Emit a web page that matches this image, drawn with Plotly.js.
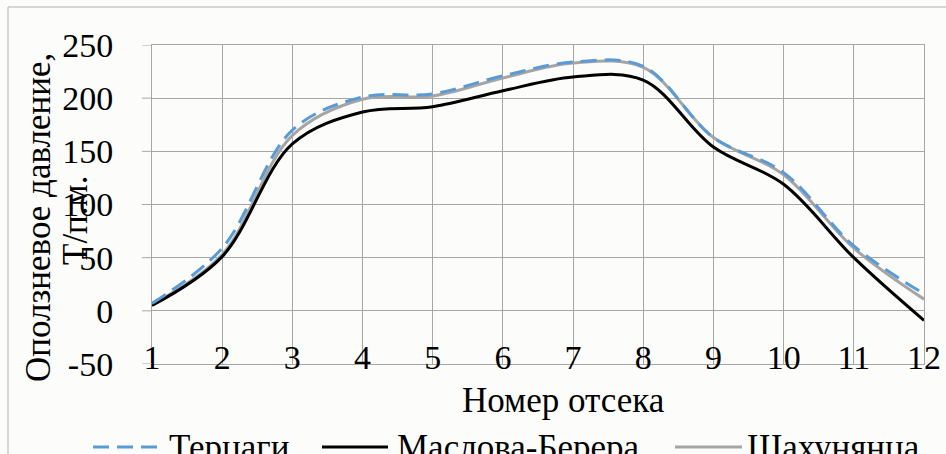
<!DOCTYPE html>
<html><head><meta charset="utf-8">
<script src="https://cdn.plot.ly/plotly-3.0.1.min.js"></script>
<style>
html,body{margin:0;padding:0;background:#fcfcfb}
#chart svg text{font-family:'Liberation Serif',serif !important;}
</style>
</head><body><div id="chart" style="width:946px;height:454px"></div>
<script>
const sections = [1,2,3,4,5,6,7,8,9,10,11,12];
const terzaghi = [7, 59, 170, 201, 204, 221, 234, 230, 163, 130, 61, 16];
const maslovBerer = [5, 51, 157, 187, 192, 207, 220, 217, 154, 119, 50, -9];
const shakhunyants = [6, 53, 165, 199, 202, 219, 233, 229, 163, 128, 59, 11];
const seriesNames = ['Терцаги', 'Маслова-Берера', 'Шахунянца'];
const yTickVals = [-50, 0, 50, 100, 150, 200, 250];
const xTitle = 'Номер отсека';
const yTitleLines = ['Оползневое давление,', 'Т/п.м.'];

const W = 946, H = 454, ML = 152, MR = 22, MT = 45, MB = 90;
const PW = W - ML - MR, PH = H - MT - MB;
const px = x => (x - ML) / PW;
const py = y => (H - MB - y) / PH;

const FONT = 'Liberation Serif';
const colors = ['#5b9bd5', '#000000', '#a5a5a5'];
const dashes = ['16px,8px', 'solid', 'solid'];
const allY = [terzaghi, maslovBerer, shakhunyants];
const tf = (s) => ({family: FONT, size: s || 34, color: '#000000'});

const order = [2, 1, 0];
const traces = order.map(i => ({
  x: sections, y: allY[i], name: seriesNames[i], type: 'scatter', mode: 'lines',
  line: {color: colors[i], width: 3, dash: dashes[i], shape: 'spline', smoothing: 1},
  showlegend: false, hoverinfo: 'x+y+name'
}));
// invisible trace carrying the tick-label axis
traces.push({x: sections, y: maslovBerer, xaxis: 'x2', yaxis: 'y', type: 'scatter', mode: 'lines',
  line: {width: 0, color: 'rgba(0,0,0,0)'}, showlegend: false, hoverinfo: 'skip'});

const legendItems = [
  {x0: 93, x1: 157, tx: 167},
  {x0: 322, x1: 388, tx: 395},
  {x0: 675, x1: 742, tx: 745}
];
const legY = 447;

const shapes = [
  {type: 'rect', xref: 'paper', yref: 'paper', x0: px(8), x1: px(990), y0: py(500), y1: py(7),
   line: {color: '#b0b0b0', width: 1}, fillcolor: 'rgba(0,0,0,0)', layer: 'below'}
];
// short visible tick stubs left of the y axis
yTickVals.forEach(v => shapes.push({type: 'line', xref: 'paper', yref: 'y', x0: px(142), x1: 0, y0: v, y1: v,
  line: {color: '#a6a6a6', width: 1}}));

const annotations = [
  {xref: 'paper', yref: 'paper', x: px(563), y: py(400), text: xTitle, showarrow: false,
   xanchor: 'center', yanchor: 'middle', font: tf(35)},
  {xref: 'paper', yref: 'paper', x: px(38), y: py(218), text: yTitleLines[0], showarrow: false,
   textangle: -90, xanchor: 'center', yanchor: 'middle', font: tf(35)},
  {xref: 'paper', yref: 'paper', x: px(75), y: py(221), text: yTitleLines[1], showarrow: false,
   textangle: -90, xanchor: 'center', yanchor: 'middle', font: tf(35)}
];
legendItems.forEach((it, i) => {
  shapes.push({type: 'line', xref: 'paper', yref: 'paper', x0: px(it.x0), x1: px(it.x1), y0: py(legY), y1: py(legY),
    line: {color: colors[i], width: 3, dash: dashes[i]}});
  annotations.push({xref: 'paper', yref: 'paper', x: px(it.tx), y: py(legY), text: seriesNames[i], showarrow: false,
    xanchor: 'left', yanchor: 'middle', font: tf(35)});
});

const layout = {
  width: W, height: H,
  margin: {l: ML, r: MR, t: MT, b: MB, pad: 0},
  paper_bgcolor: '#fcfcfb', plot_bgcolor: '#fcfcfb',
  font: tf(),
  showlegend: false,
  xaxis: {
    range: [1, 12], tickvals: sections,
    showgrid: true, gridcolor: '#a6a6a6', gridwidth: 1,
    showline: true, linecolor: '#a6a6a6', linewidth: 1, mirror: true,
    zeroline: false, ticks: '', showticklabels: false
  },
  xaxis2: {
    overlaying: 'x', matches: 'x', anchor: 'free', position: py(334), side: 'bottom',
    range: [1, 12], tickvals: sections, ticktext: sections.map(String),
    showgrid: false, showline: false, zeroline: false, ticks: '',
    tickfont: tf()
  },
  yaxis: {
    range: [-50, 250], tickvals: yTickVals, ticktext: yTickVals.map(String),
    showgrid: true, gridcolor: '#a6a6a6', gridwidth: 1,
    showline: true, linecolor: '#a6a6a6', linewidth: 1, mirror: true,
    zeroline: false, ticks: 'outside', ticklen: 31, tickcolor: 'rgba(0,0,0,0)', tickwidth: 1,
    tickfont: tf()
  },
  shapes: shapes, annotations: annotations
};
Plotly.newPlot('chart', traces, layout, {displayModeBar: false, staticPlot: true});
</script></body></html>
